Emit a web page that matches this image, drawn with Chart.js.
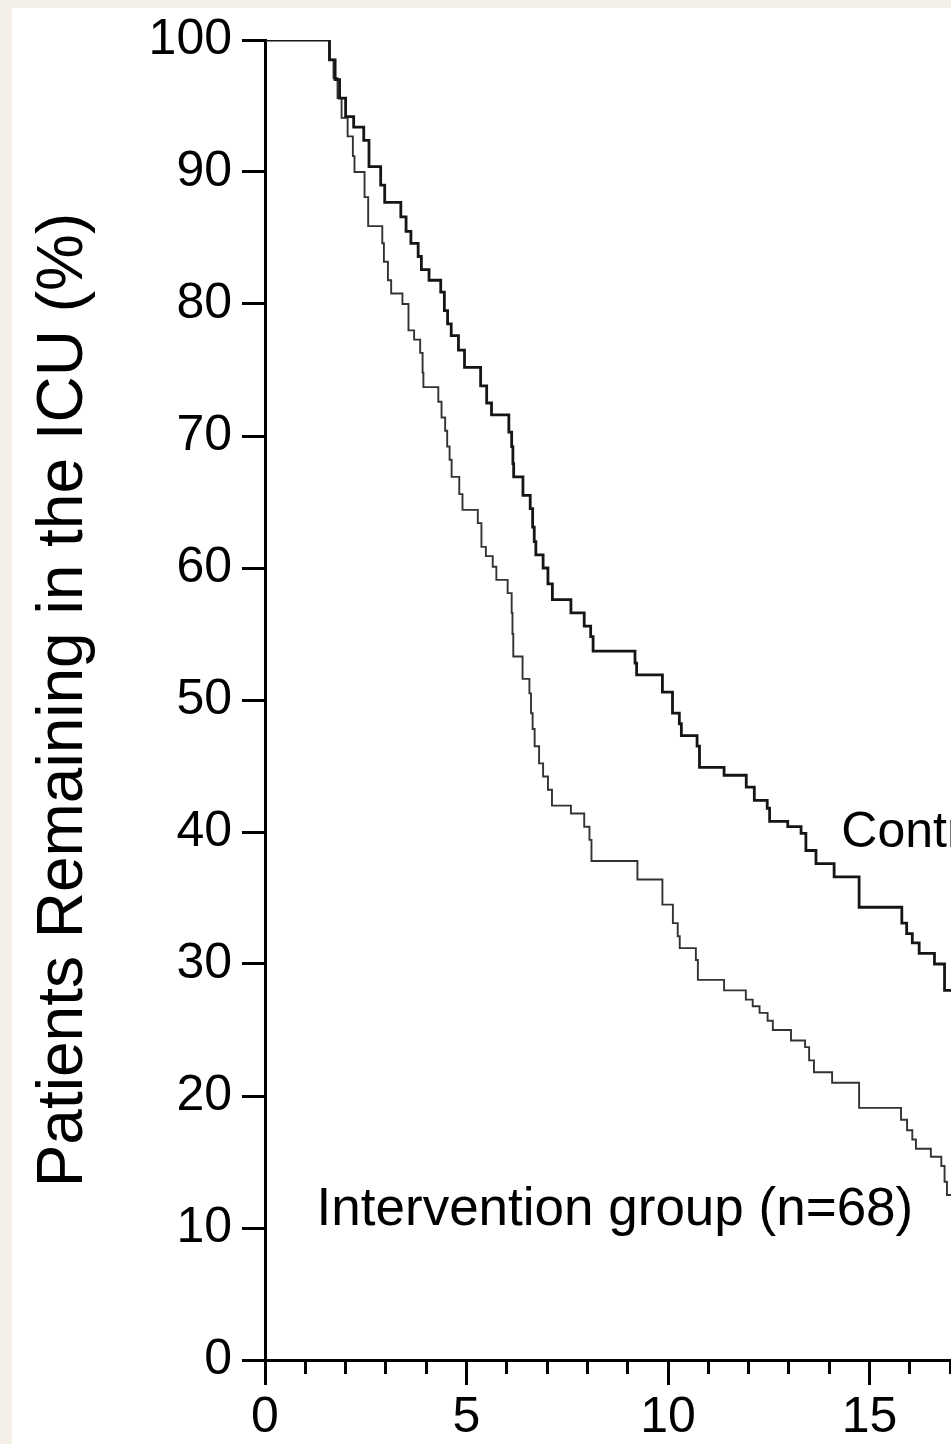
<!DOCTYPE html>
<html>
<head>
<meta charset="utf-8">
<script src="https://cdn.jsdelivr.net/npm/chart.js@4.4.0/dist/chart.umd.min.js"></script>
<style>
  html, body { margin: 0; padding: 0; background: #f3efe7; overflow: hidden; }
  #wrap { position: absolute; left: 12px; top: 8px; width: 939px; height: 1436px; background: #fff; }
</style>
</head>
<body>
<div id="wrap"><canvas id="kmChart"></canvas></div>
<script>
// Kaplan-Meier steps: day of each drop and % of patients still in the ICU after it
var controlDays = [0, 1.60, 1.74, 1.85, 2.00, 2.20, 2.45, 2.58, 2.87, 2.97, 3.37, 3.50, 3.62, 3.80, 3.88, 4.07, 4.36, 4.45, 4.53, 4.62, 4.80, 4.95, 5.35, 5.50, 5.62, 6.05, 6.12, 6.15, 6.17, 6.40, 6.58, 6.64, 6.68, 6.72, 6.90, 7.02, 7.13, 7.59, 7.92, 8.08, 8.14, 9.18, 9.22, 9.86, 10.11, 10.28, 10.33, 10.72, 10.78, 11.39, 11.94, 12.14, 12.46, 12.52, 12.97, 13.30, 13.42, 13.67, 14.12, 14.74, 15.80, 15.92, 16.06, 16.23, 16.61, 16.86, 17.30];
var controlPct = [100, 98.5, 97.0, 95.6, 94.2, 93.4, 92.4, 90.4, 89.0, 87.7, 86.6, 85.5, 84.6, 83.6, 82.6, 81.8, 80.9, 79.5, 78.5, 77.6, 76.5, 75.2, 73.8, 72.5, 71.6, 70.3, 69.2, 67.9, 66.9, 65.5, 64.5, 63.1, 62.0, 61.0, 60.0, 58.8, 57.6, 56.6, 55.6, 54.8, 53.7, 52.8, 51.9, 50.6, 49.0, 48.2, 47.3, 46.5, 44.9, 44.3, 43.4, 42.4, 41.8, 40.8, 40.4, 39.9, 38.6, 37.6, 36.6, 34.3, 33.1, 32.3, 31.6, 30.8, 30.0, 28.0, 28.0];

var interventionDays = [0, 1.60, 1.70, 1.80, 1.90, 2.05, 2.18, 2.22, 2.47, 2.56, 2.91, 2.95, 3.05, 3.13, 3.41, 3.56, 3.70, 3.85, 3.91, 3.93, 4.30, 4.38, 4.47, 4.52, 4.58, 4.63, 4.82, 4.90, 5.28, 5.37, 5.48, 5.65, 5.74, 6.02, 6.12, 6.14, 6.16, 6.39, 6.56, 6.60, 6.64, 6.69, 6.80, 6.90, 7.02, 7.12, 7.59, 7.92, 8.05, 8.10, 9.24, 9.86, 10.12, 10.24, 10.29, 10.69, 10.74, 11.39, 11.93, 12.10, 12.27, 12.47, 12.60, 13.05, 13.40, 13.50, 13.62, 14.07, 14.74, 15.78, 15.93, 16.06, 16.15, 16.52, 16.78, 16.86, 16.92, 17.30];
var interventionPct = [100, 98.5, 97.1, 95.6, 94.1, 92.7, 91.2, 90.0, 88.1, 85.9, 84.6, 83.2, 81.8, 80.8, 80.0, 78.0, 77.3, 76.3, 74.8, 73.7, 72.6, 71.4, 70.4, 69.2, 68.2, 66.9, 65.6, 64.4, 63.4, 61.6, 60.9, 60.1, 59.1, 58.1, 56.6, 55.0, 53.3, 51.6, 50.5, 49.0, 47.8, 46.5, 45.2, 44.2, 43.2, 42.0, 41.4, 40.4, 39.4, 37.8, 36.4, 34.5, 33.1, 32.1, 31.2, 30.3, 28.8, 28.0, 27.3, 26.8, 26.3, 25.7, 25.0, 24.2, 23.7, 22.7, 21.8, 21.0, 19.1, 18.2, 17.4, 16.7, 16.0, 15.4, 14.7, 13.5, 12.5, 12.5];

var yTicks = [0, 10, 20, 30, 40, 50, 60, 70, 80, 90, 100];
var xMajorTicks = [0, 5, 10, 15];
var xMinorTicks = [0, 1, 2, 3, 4, 5, 6, 7, 8, 9, 10, 11, 12, 13, 14, 15, 16, 17];

var FONT = '"Liberation Sans", Arial, Helvetica, sans-serif';

function toPoints(xs, ys) {
  return xs.map(function (x, i) { return { x: x, y: ys[i] }; });
}

function setTicks(list) {
  return function (scale) {
    scale.ticks = list.map(function (v) { return { value: v }; });
  };
}

// curve labels, placed in data units
var groupLabels = {
  id: 'groupLabels',
  afterDatasetsDraw: function (chart) {
    var ctx = chart.ctx, xs = chart.scales.x, ys = chart.scales.y;
    var items = [
      { text: 'Intervention group (n=68)', x: 1.28, y: 10.2, size: 53 },
      { text: 'Control group', x: 14.30, y: 38.9, size: 50 }
    ];
    ctx.save();
    ctx.fillStyle = '#000';
    ctx.textAlign = 'left';
    ctx.textBaseline = 'alphabetic';
    items.forEach(function (it) {
      ctx.font = it.size + 'px ' + FONT;
      ctx.fillText(it.text, xs.getPixelForValue(it.x), ys.getPixelForValue(it.y));
    });
    ctx.restore();
  }
};

var chart = new Chart(document.getElementById('kmChart'), {
  type: 'line',
  data: {
    datasets: [{
      label: 'Control group',
      data: toPoints(controlDays, controlPct),
      borderColor: '#151515',
      borderWidth: 2.8,
      stepped: 'before',
      pointRadius: 0,
      xAxisID: 'x',
      yAxisID: 'y'
    }, {
      label: 'Intervention group (n=68)',
      data: toPoints(interventionDays, interventionPct),
      borderColor: '#333',
      borderWidth: 1.9,
      stepped: 'before',
      pointRadius: 0,
      xAxisID: 'x',
      yAxisID: 'y'
    }]
  },
  options: {
    responsive: true,
    maintainAspectRatio: false,
    animation: false,
    layout: { padding: { top: 32, left: 0, right: 0, bottom: 0 } },
    plugins: {
      legend: { display: false },
      tooltip: { enabled: false }
    },
    scales: {
      x: {
        type: 'linear',
        axis: 'x',
        position: 'bottom',
        min: 0,
        max: 17.02,
        afterBuildTicks: setTicks(xMajorTicks),
        afterFit: function (s) { s.height = 84; },
        grid: { display: true, drawOnChartArea: false, drawTicks: true, tickLength: 25, lineWidth: 3, color: '#000' },
        border: { display: true, width: 3, color: '#000' },
        ticks: { font: { family: FONT, size: 50 }, color: '#000', padding: 3, maxRotation: 0, autoSkip: false }
      },
      xMinor: {
        type: 'linear',
        axis: 'x',
        position: { y: 0 },
        min: 0,
        max: 17.02,
        afterBuildTicks: setTicks(xMinorTicks),
        grid: { display: true, drawOnChartArea: false, drawTicks: true, tickLength: 14, lineWidth: 3, color: '#000' },
        border: { display: false },
        ticks: { display: false }
      },
      y: {
        type: 'linear',
        position: 'left',
        min: 0,
        max: 100,
        afterBuildTicks: setTicks(yTicks),
        afterFit: function (s) { s.width = 253; },
        grid: { display: true, drawOnChartArea: false, drawTicks: true, tickLength: 23, lineWidth: 3, color: '#000' },
        border: { display: true, width: 3, color: '#000' },
        ticks: { font: { family: FONT, size: 50, lineHeight: 0.7 }, color: '#000', padding: 10 },
        title: {
          display: true,
          text: 'Patients Remaining in the ICU (%)',
          font: { family: FONT, size: 64 },
          color: '#000',
          padding: { top: 14, bottom: 0 }
        }
      }
    }
  },
  plugins: [groupLabels]
});
</script>
</body>
</html>
